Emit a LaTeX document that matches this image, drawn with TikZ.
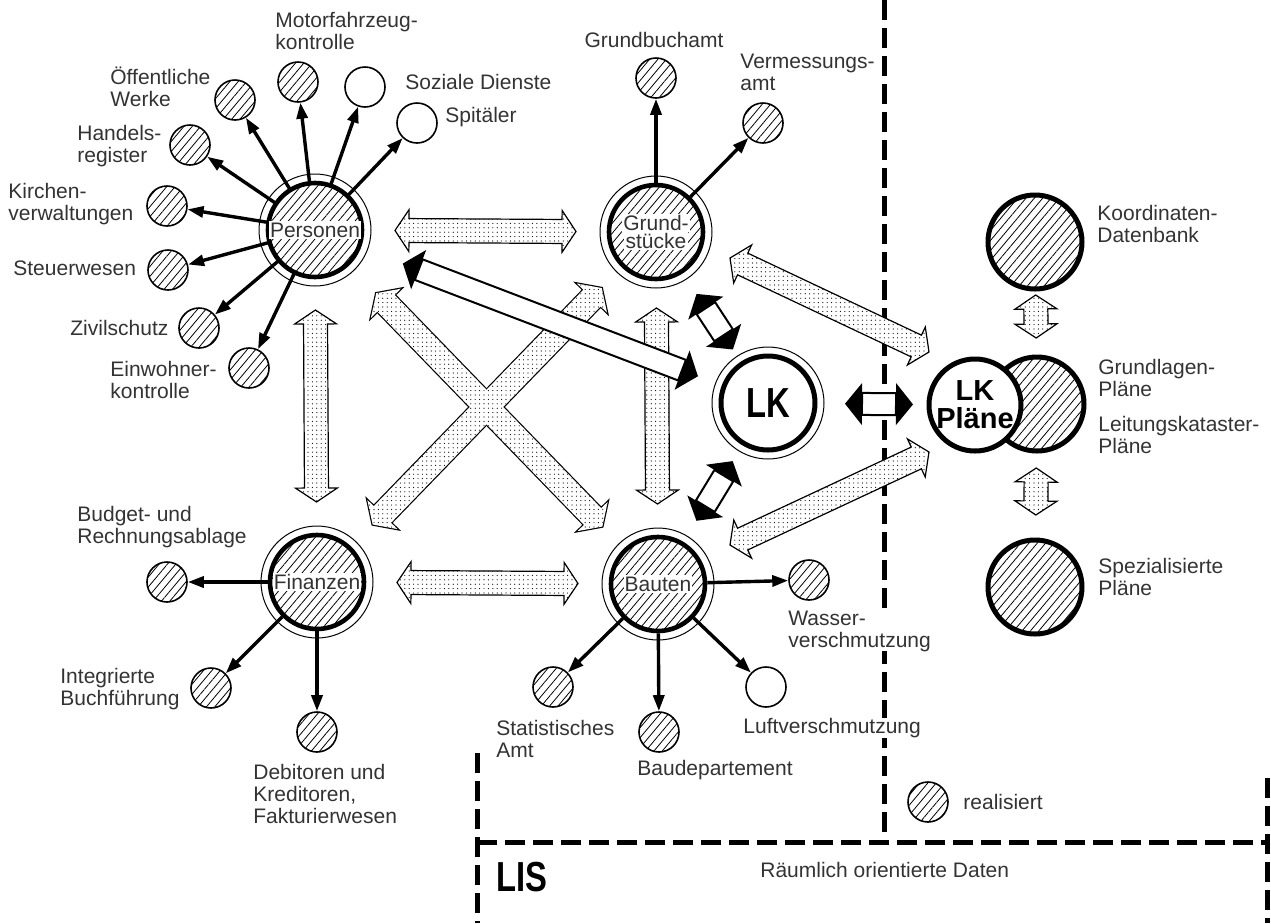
\documentclass[tikz,border=0pt]{standalone}
\usepackage{fontspec}
\setmainfont{Liberation Sans}
\newfontfamily\condsans[FakeStretch=0.78]{Liberation Sans}
\usetikzlibrary{arrows.meta, calc, patterns.meta}

\tikzset{
  every node/.style={font=\fontsize{10.5pt}{11pt}\selectfont, text=black!80},
  hatch/.style={pattern={Lines[angle=50,distance=3.2pt,line width=0.4pt]}},
  dotfill/.style={preaction={fill=white}, pattern={Dots[radius=0.3pt,distance=2.2pt]}},
  dotarr/.style={dotfill, draw, line width=0.6pt},
  office/.style={circle, draw, line width=2.3pt, minimum size=47pt, inner sep=0pt, align=center},
  halo/.style={line width=0.5pt},
  subnode/.style={circle, draw, line width=0.8pt, minimum size=20pt, inner sep=0pt},
  planbig/.style={circle, draw, line width=2.5pt, minimum size=47pt, inner sep=0pt, align=center},
  lbl/.style={anchor=west, align=left, inner sep=0pt},
  feed/.style={line width=1.7pt, -{Triangle[length=8pt,width=5.5pt]}},
  lisline/.style={line width=2.5pt, dash pattern=on 10pt off 4pt},
}

% text cut out of the hatching
\newcommand{\clear}[1]{{\setlength{\fboxsep}{0.6pt}\colorbox{white}{#1}}}

% fat double arrow between two coordinates
\newcommand{\fatarrow}[3]{%
  \path[#1] (#2) -- ($(#2)!7pt!(#3)!10.5pt!90:(#3)$) -- ($(#2)!7pt!(#3)!6pt!90:(#3)$)
    -- ($(#3)!7pt!(#2)!6pt!-90:(#2)$) -- ($(#3)!7pt!(#2)!10.5pt!-90:(#2)$) -- (#3)
    -- ($(#3)!7pt!(#2)!10.5pt!90:(#2)$) -- ($(#3)!7pt!(#2)!6pt!90:(#2)$)
    -- ($(#2)!7pt!(#3)!6pt!-90:(#3)$) -- ($(#2)!7pt!(#3)!10.5pt!-90:(#3)$) -- cycle;}

% white shaft, black heads
\newcommand{\blackarrow}[2]{%
  \filldraw[fill=white, line width=1pt] ($(#1)!8.5pt!(#2)!5.5pt!90:(#2)$) -- ($(#2)!8.5pt!(#1)!5.5pt!-90:(#1)$)
    -- ($(#2)!8.5pt!(#1)!5.5pt!90:(#1)$) -- ($(#1)!8.5pt!(#2)!5.5pt!-90:(#2)$) -- cycle;
  \fill (#1) -- ($(#1)!8.5pt!(#2)!10.5pt!90:(#2)$) -- ($(#1)!8.5pt!(#2)!10.5pt!-90:(#2)$) -- cycle;
  \fill (#2) -- ($(#2)!8.5pt!(#1)!10.5pt!90:(#1)$) -- ($(#2)!8.5pt!(#1)!10.5pt!-90:(#1)$) -- cycle;}

\begin{document}
\begin{tikzpicture}[x=0.5pt, y=-0.5pt]
    \useasboundingbox (0,0) rectangle (1271,923);

    % LIS frame
    \draw[lisline] (884,0) -- (884,842);
    \draw[lisline] (477,753) -- (477,923);
    \draw[lisline] (477,842) -- (1267,842);
    \draw[lisline] (1267,778) -- (1267,923);

    % main offices
    \node[office, hatch] (pers) at (315,230) {\clear{Personen}};
    \node[office, hatch] (grund) at (656,232) {\clear{Grund-}\\[-2pt]\clear{stücke}};
    \node[office, hatch] (fin) at (317,582) {\clear{Finanzen}};
    \node[office, hatch] (bau) at (658,584) {\clear{Bauten}};
    \node[office, fill=white, line width=2.5pt, text=black,
          font=\condsans\bfseries\fontsize{21pt}{21pt}\selectfont] (lk) at (768,403) {LK};
    \foreach \n in {pers,grund,fin,bau,lk}
        \draw[halo] (\n.center) circle (28pt);

    % plans
    \node[planbig, hatch] (koord) at (1035,242) {};
    \node[planbig, hatch] (lkh) at (1037,404) {};
    \node[planbig, fill=white, minimum size=46pt, text=black,
          font=\bfseries\fontsize{14.5pt}{14pt}\selectfont] (lkp) at (975,405) {LK\\Pläne};
    \node[planbig, hatch] (spez) at (1035,587) {};

    % Personen
    \node[subnode, hatch] (oeff) at (235,100) {};
    \node[subnode, hatch] (motor) at (298,82) {};
    \node[subnode, fill=white] (sozial) at (365,87) {};
    \node[subnode, fill=white] (spital) at (417,123) {};
    \node[subnode, hatch] (handel) at (190,145) {};
    \node[subnode, hatch] (kirche) at (167,206) {};
    \node[subnode, hatch] (steuer) at (168,270) {};
    \node[subnode, hatch] (zivil) at (199,328) {};
    \node[subnode, hatch] (einw) at (249,368) {};
    \foreach \t in {oeff,motor,sozial,spital,handel,kirche,steuer,zivil,einw}
        \draw[feed] (pers) -- (\t);

    % Grundstuecke
    \node[subnode, hatch] (buchamt) at (656,78) {};
    \node[subnode, hatch] (verm) at (763,123) {};
    \foreach \t in {buchamt,verm}
        \draw[feed] (grund) -- (\t);

    % Finanzen
    \node[subnode, hatch] (budget) at (167,582) {};
    \node[subnode, hatch] (integ) at (211,688) {};
    \node[subnode, hatch] (debit) at (317,732) {};
    \foreach \t in {budget,integ,debit}
        \draw[feed] (fin) -- (\t);

    % Bauten
    \node[subnode, hatch] (wasser) at (809,580) {};
    \node[subnode, fill=white] (luft) at (766,687) {};
    \node[subnode, hatch] (baudep) at (659,732) {};
    \node[subnode, hatch] (stat) at (553,687) {};
    \foreach \t in {wasser,luft,baudep,stat}
        \draw[feed] (bau) -- (\t);

    % legend
    \node[subnode, hatch] (legend) at (928,802) {};

    % labels
    \node[lbl] (motorlbl) at (275,31) {Motorfahrzeug-\\kontrolle};
    \node[lbl] (oefflbl) at (110,87) {Öffentliche\\Werke};
    \node[lbl] (handellbl) at (77,146) {Handels-\\register};
    \node[lbl] (kirchelbl) at (8,204) {Kirchen-\\verwaltungen};
    \node[lbl] (steuerlbl) at (13,268) {Steuerwesen};
    \node[lbl] (zivillbl) at (70,328) {Zivilschutz};
    \node[lbl] (einwlbl) at (110,380) {Einwohner-\\kontrolle};
    \node[lbl] (soziallbl) at (405,82) {Soziale Dienste};
    \node[lbl] (spitallbl) at (445,117) {Spitäler};
    \node[inner sep=0pt] (buchamtlbl) at (654,40) {Grundbuchamt};
    \node[lbl] (vermlbl) at (740,72) {Vermessungs-\\amt};
    \node[lbl] (budgetlbl) at (77,527) {Budget- und\\Rechnungsablage};
    \node[lbl] (integlbl) at (60,689) {Integrierte\\Buchführung};
    \node[lbl] (debitlbl) at (253,794) {Debitoren und\\Kreditoren,\\Fakturierwesen};
    \node[lbl, fill=white] (wasserlbl) at (788,631) {Wasser-\\verschmutzung};
    \node[lbl, fill=white] (luftlbl) at (743,728) {Luftverschmutzung};
    \node[lbl] (baudeplbl) at (637,770) {Baudepartement};
    \node[lbl] (statlbl) at (496,739) {Statistisches\\Amt};
    \node[lbl] (koordlbl) at (1097,224) {Koordinaten-\\Datenbank};
    \node[lbl] (grundllbl) at (1098,378) {Grundlagen-\\Pläne};
    \node[lbl] (leitlbl) at (1098,435) {Leitungskataster-\\Pläne};
    \node[lbl] (spezlbl) at (1098,577) {Spezialisierte\\Pläne};
    \node[lbl] (legendlbl) at (963,802) {realisiert};
    \node[lbl] (datenlbl) at (760,870) {Räumlich orientierte Daten};
    \node[lbl, text=black, font=\condsans\bfseries\fontsize{21pt}{21pt}\selectfont] (lislbl) at (496,877) {LIS};

    % arrow ends
    \coordinate (pg1) at ($(pers)!40pt!(grund)$);
    \coordinate (pg2) at ($(grund)!40pt!(pers)$);
    \coordinate (fb1) at ($(fin)!40pt!(bau)$);
    \coordinate (fb2) at ($(bau)!40pt!(fin)$);
    \coordinate (pf1) at ($(pers)!40pt!(fin)$);
    \coordinate (pf2) at ($(fin)!40pt!(pers)$);
    \coordinate (gb1) at ($(grund)!38pt!(bau)$);
    \coordinate (gb2) at ($(bau)!40pt!(grund)$);
    \coordinate (pb1) at ($(pers)!44pt!(bau)$);
    \coordinate (pb2) at ($(bau)!40pt!(pers)$);
    \coordinate (fg1) at ($(fin)!40pt!(grund)$);
    \coordinate (fg2) at ($(grund)!39pt!(fin)$);
    \coordinate (gl1) at ($(grund)+(74,26)$);
    \coordinate (gl2) at ($(lkp)+(-46,-53)$);
    \coordinate (bl1) at ($(bau)+(72,-39)$);
    \coordinate (bl2) at ($(lkp)+(-46,47)$);
    \coordinate (kc1) at ($(koord)!26.5pt!(lkh)$);
    \coordinate (kc2) at ($(lkh)!33pt!(koord)$);
    \coordinate (sc1) at ($(lkh)!32pt!(spez)$);
    \coordinate (sc2) at ($(spez)!36pt!(lkh)$);
    \coordinate (pl1) at ($(pers)!47pt!(lk)$);
    \coordinate (pl2) at ($(lk)!37.5pt!(pers)$);
    \coordinate (gk1) at ($(grund)!37pt!(lk)$);
    \coordinate (gk2) at ($(lk)!32pt!(grund)$);
    \coordinate (bk1) at ($(bau)!37pt!(lk)$);
    \coordinate (bk2) at ($(lk)!34pt!(bau)$);
    \coordinate (kp1) at ($(lk)!38.5pt!(lkp)$);
    \coordinate (kp2) at ($(lkp)!31pt!(lk)$);

    % dotted arrows
    \fatarrow{dotarr}{pg1}{pg2}
    \fatarrow{dotarr}{fb1}{fb2}
    \fatarrow{dotarr}{pf1}{pf2}
    \fatarrow{dotarr}{gb1}{gb2}
    \fatarrow{dotarr}{gl1}{gl2}
    \fatarrow{dotarr}{bl1}{bl2}
    \fatarrow{dotarr}{kc1}{kc2}
    \fatarrow{dotarr}{sc1}{sc2}
    % the cross
    \fatarrow{draw, line width=1.2pt}{pb1}{pb2}
    \fatarrow{draw, line width=1.2pt}{fg1}{fg2}
    \fatarrow{dotfill}{pb1}{pb2}
    \fatarrow{dotfill}{fg1}{fg2}

    % black arrows
    \blackarrow{pl1}{pl2}
    \blackarrow{gk1}{gk2}
    \blackarrow{bk1}{bk2}
    \blackarrow{kp1}{kp2}
\end{tikzpicture}
\end{document}
